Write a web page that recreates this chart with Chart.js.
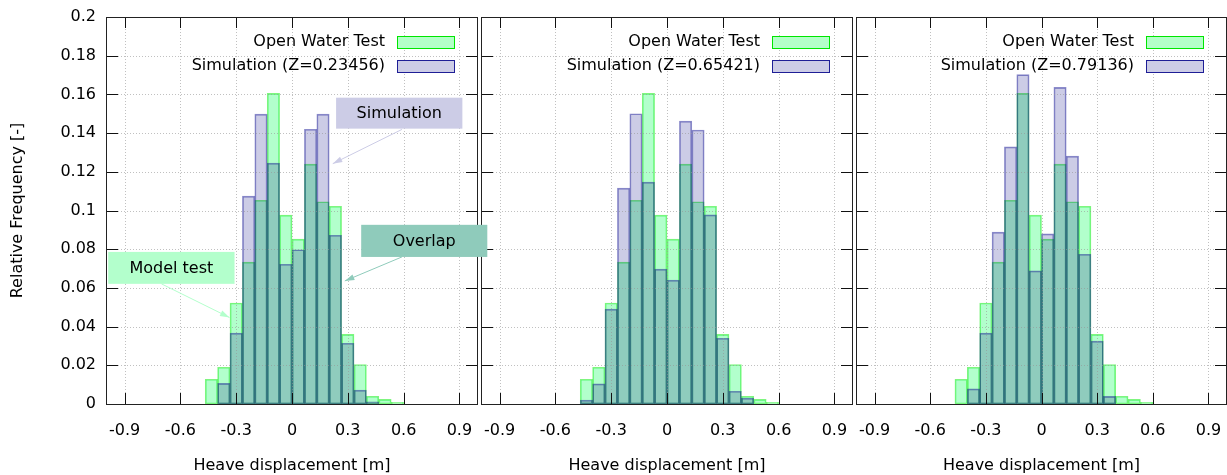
<!DOCTYPE html>
<html lang="en">
<head>
<meta charset="UTF-8">
<title>Heave displacement histograms</title>
<script src="https://cdn.jsdelivr.net/npm/chart.js"></script>
<style>
  body { margin: 0; background: #fff; }
  canvas { position: absolute; top: 0; }
</style>
</head>
<body>
<canvas id="p1" width="500" height="475" style="left:0;z-index:3"></canvas>
<canvas id="p2" width="377" height="475" style="left:478px;z-index:2"></canvas>
<canvas id="p3" width="374" height="475" style="left:853px;z-index:1"></canvas>
<script>
// bins of 1/15 m, from -0.4667 to 0.6
const binCenters = [-0.4333, -0.3667, -0.3, -0.2333, -0.1667, -0.1, -0.0333, 0.0333,
                    0.1, 0.1667, 0.2333, 0.3, 0.3667, 0.4333, 0.5, 0.5667];

const openWater = [0.0128, 0.0190, 0.0522, 0.0733, 0.1053, 0.1605, 0.0976, 0.0852,
                   0.1240, 0.1045, 0.1022, 0.0360, 0.0204, 0.0040, 0.0024, 0.0009];

const sim1 = [0, 0.0107, 0.0366, 0.1074, 0.1498, 0.1245, 0.0722, 0.0797,
              0.1420, 0.1498, 0.0872, 0.0314, 0.0072, 0.0011, 0, 0];
const sim2 = [0.0020, 0.0104, 0.0490, 0.1116, 0.1500, 0.1147, 0.0697, 0.0640,
              0.1462, 0.1416, 0.0977, 0.0340, 0.0066, 0.0030, 0, 0];
const sim3 = [0, 0.0078, 0.0366, 0.0888, 0.1329, 0.1702, 0.0688, 0.0879,
              0.1636, 0.1281, 0.0774, 0.0325, 0.0039, 0, 0, 0];

const simLabels = ['Simulation (Z=0.23456)', 'Simulation (Z=0.65421)', 'Simulation (Z=0.79136)'];
const owLabel = 'Open Water Test';

const xTicks = [-0.9, -0.6, -0.3, 0, 0.3, 0.6, 0.9];
const xTickLabels = ['-0.9', '-0.6', '-0.3', '0', '0.3', '0.6', '0.9'];
const yTicks = [0, 0.02, 0.04, 0.06, 0.08, 0.1, 0.12, 0.14, 0.16, 0.18, 0.2];
const yTickLabels = ['0', '0.02', '0.04', '0.06', '0.08', '0.1', '0.12', '0.14', '0.16', '0.18', '0.2'];

const greenFill = 'rgba(0,255,85,0.3)';
const greenLine = 'rgba(0,235,0,0.5)';
const blueFill = 'rgba(0,0,128,0.2)';
const blueLine = 'rgba(0,0,140,0.45)';

Chart.defaults.font.family = "'DejaVu Sans', sans-serif";
Chart.defaults.font.size = 16;
Chart.defaults.color = '#000';

// labelled boxes with arrows on the first panel, in data units
const notes = [
  { text: 'Simulation', box: [0.237, 0.1583, 0.916, 0.1423], fill: '#ccccE6',
    from: [0.591, 0.1419], to: [0.219, 0.1242] },
  { text: 'Overlap', box: [0.372, 0.0926, 1.05, 0.0760], fill: '#8fcbbb',
    from: [0.591, 0.0760], to: [0.284, 0.0636] },
  { text: 'Model test', box: [-0.988, 0.0786, -0.309, 0.0621], fill: '#b3ffcc',
    from: [-0.702, 0.0621], to: [-0.336, 0.0447] }
];

const frame = {
  id: 'frame',
  afterDatasetsDraw(chart) {
    const {ctx, chartArea: a, scales: {x, y}} = chart;
    const simLabel = chart.data.datasets[1].label;
    ctx.save();
    // dotted grid
    ctx.strokeStyle = 'rgba(150,150,150,0.6)';
    ctx.lineWidth = 1;
    ctx.setLineDash([1, 2]);
    ctx.beginPath();
    xTicks.forEach(v => {
      const px = Math.round(x.getPixelForValue(v)) + 0.5;
      ctx.moveTo(px, a.top); ctx.lineTo(px, a.bottom);
    });
    yTicks.forEach(v => {
      const py = Math.round(y.getPixelForValue(v)) + 0.5;
      ctx.moveTo(a.left, py); ctx.lineTo(a.right, py);
    });
    ctx.stroke();
    ctx.setLineDash([]);

    // inward tick marks on all four sides
    ctx.strokeStyle = '#111';
    ctx.beginPath();
    xTicks.forEach(v => {
      const px = Math.round(x.getPixelForValue(v)) + 0.5;
      ctx.moveTo(px, a.bottom); ctx.lineTo(px, a.bottom - 11);
      ctx.moveTo(px, a.top); ctx.lineTo(px, a.top + 11);
    });
    yTicks.forEach(v => {
      const py = Math.round(y.getPixelForValue(v)) + 0.5;
      ctx.moveTo(a.left, py); ctx.lineTo(a.left + 12, py);
      ctx.moveTo(a.right, py); ctx.lineTo(a.right - 12, py);
    });
    ctx.stroke();

    // border
    ctx.strokeStyle = '#222';
    ctx.strokeRect(Math.round(a.left) + 0.5, Math.round(a.top) + 0.5,
                   Math.round(a.right - a.left) - 1, Math.round(a.bottom - a.top));

    // key, text left of sample
    ctx.font = "16px 'DejaVu Sans'";
    ctx.fillStyle = '#000';
    ctx.textAlign = 'right';
    ctx.textBaseline = 'middle';
    ctx.fillText(owLabel, a.right - 93, a.top + 25);
    ctx.fillText(simLabel, a.right - 93, a.top + 49);
    ctx.fillStyle = '#b3ffc8';
    ctx.fillRect(a.right - 81, a.top + 19, 58, 12);
    ctx.strokeStyle = '#00e600';
    ctx.strokeRect(a.right - 80.5, a.top + 19.5, 57, 12);
    ctx.fillStyle = '#ccccE6';
    ctx.fillRect(a.right - 81, a.top + 43.5, 58, 12);
    ctx.strokeStyle = '#1e1e96';
    ctx.strokeRect(a.right - 80.5, a.top + 43.5, 57, 12);
    ctx.restore();
  }
};

const notesPlugin = {
  id: 'notes',
  afterDraw(chart) {
    const {ctx, scales: {x, y}} = chart;
    ctx.save();
    ctx.font = "16px 'DejaVu Sans'";
    ctx.textAlign = 'center';
    ctx.textBaseline = 'middle';
    notes.forEach(n => {
      const x0 = x.getPixelForValue(n.box[0]), y0 = y.getPixelForValue(n.box[1]);
      const x1 = x.getPixelForValue(n.box[2]), y1 = y.getPixelForValue(n.box[3]);
      ctx.fillStyle = n.fill;
      ctx.fillRect(x0, y0, x1 - x0, y1 - y0);
      ctx.fillStyle = '#000';
      ctx.fillText(n.text, (x0 + x1) / 2, (y0 + y1) / 2 + 1);
      // arrow
      const fx = x.getPixelForValue(n.from[0]), fy = y.getPixelForValue(n.from[1]);
      const tx = x.getPixelForValue(n.to[0]), ty = y.getPixelForValue(n.to[1]);
      const ang = Math.atan2(ty - fy, tx - fx);
      ctx.strokeStyle = n.fill;
      ctx.fillStyle = n.fill;
      ctx.lineWidth = 1;
      ctx.beginPath();
      ctx.moveTo(fx, fy); ctx.lineTo(tx, ty);
      ctx.stroke();
      ctx.beginPath();
      ctx.moveTo(tx, ty);
      ctx.lineTo(tx - 10 * Math.cos(ang - 0.3), ty - 10 * Math.sin(ang - 0.3));
      ctx.lineTo(tx - 10 * Math.cos(ang + 0.3), ty - 10 * Math.sin(ang + 0.3));
      ctx.closePath();
      ctx.fill();
    });
    ctx.restore();
  }
};

function toPoints(vals) {
  return binCenters.map((c, i) => ({x: c, y: vals[i] > 0 ? vals[i] : null}));
}

function makeChart(id, sim, simLabel, first, padRight) {
  const extra = first ? [frame, notesPlugin] : [frame];
  return new Chart(document.getElementById(id), {
    type: 'bar',
    data: {
      datasets: [
        { label: owLabel, data: toPoints(openWater), backgroundColor: greenFill,
          borderColor: greenLine, borderWidth: 1, borderSkipped: false, order: 2 },
        { label: simLabel, data: toPoints(sim), backgroundColor: blueFill,
          borderColor: blueLine, borderWidth: 1, borderSkipped: false, order: 1 }
      ]
    },
    options: {
      responsive: false,
      animation: false,
      events: [],
      layout: { padding: { top: 17, right: padRight, left: 0, bottom: 0 } },
      datasets: { bar: { grouped: false, barPercentage: 1, categoryPercentage: 1 } },
      plugins: { legend: { display: false }, tooltip: { enabled: false } },
      scales: {
        x: {
          type: 'linear', min: -1, max: 1, offset: false,
          grid: { display: false, drawTicks: false }, border: { display: false },
          afterBuildTicks: s => { s.ticks = xTicks.map(v => ({value: v})); },
          afterFit: s => { s.height = 71; s.paddingLeft = 0; s.paddingRight = 0; },
          ticks: { autoSkip: false, maxRotation: 0, padding: 17,
                   callback: (v, i) => xTickLabels[i] },
          title: { display: true, text: 'Heave displacement [m]', padding: { top: 0, bottom: 0 } }
        },
        y: {
          type: 'linear', min: 0, max: 0.2,
          grid: { display: false, drawTicks: false }, border: { display: false },
          afterBuildTicks: s => { s.ticks = yTicks.map(v => ({value: v})); },
          afterFit: s => { s.width = first ? 106 : 3; s.paddingTop = 0; s.paddingBottom = 0; },
          ticks: { display: first, padding: 10, callback: (v, i) => yTickLabels[i] },
          title: { display: first, text: 'Relative Frequency [-]', padding: { top: 8, bottom: 0 } }
        }
      }
    },
    plugins: extra
  });
}

makeChart('p1', sim1, simLabels[0], true, 22);
makeChart('p2', sim2, simLabels[1], false, 2);
makeChart('p3', sim3, simLabels[2], false, 0);
</script>
</body>
</html>
